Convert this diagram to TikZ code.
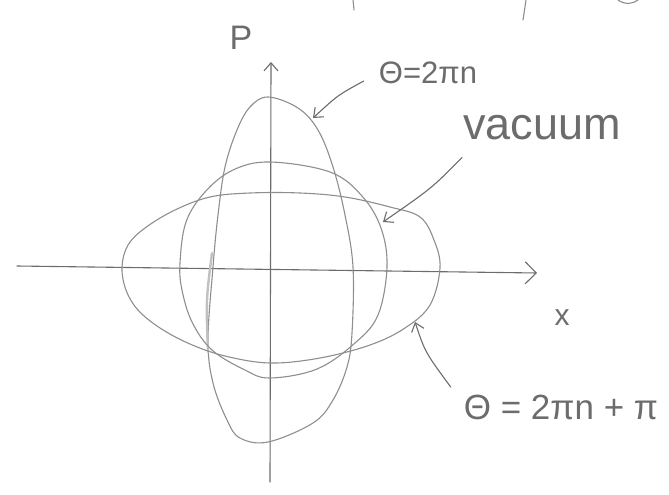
\documentclass[tikz,border=0pt]{standalone}
\usepackage{fontspec}
\setmainfont{Liberation Sans}
\usepackage{tikz}
\usetikzlibrary{arrows.meta,calc}
\definecolor{Pencil}{HTML}{8E8E8E}
\definecolor{Graphite}{HTML}{6C6C6C}

\begin{document}
\begin{tikzpicture}[
  x=1pt,y=-1pt,
  pencil/.style={draw=Pencil,line width=1.1pt,line cap=round,line join=round},
  axis/.style={pencil,draw=Graphite,-{Straight Barb[length=11pt,width=22pt]}},
  pointer/.style={pencil,draw=Graphite,-{Straight Barb[length=8pt,width=13pt]}},
  lbl/.style={text=Graphite,inner sep=1pt,font=\fontsize{30}{34}\selectfont}
]
\useasboundingbox (0,0) rectangle (669,495);
% bits of the line above, cut off by the page edge
\draw[pencil] (353,0) -- (354,10);
\draw[pencil] (526,0) -- (523,20);
\draw[pencil] (618,0) .. controls (625,5) and (633,4) .. (638,0);
% axes
\coordinate (xFrom) at (17,266);
\coordinate (xTo) at (537,273);
\coordinate (pFrom) at (270,482);
\coordinate (pTo) at (271,62);
\draw[axis] (xFrom) -- (xTo);
\draw[axis,-{Straight Barb[length=8pt,width=14pt]}] (pFrom) -- (pTo);
\node[lbl,font=\fontsize{34}{38}\selectfont] (pLabel) at (241,38) {P};
\node[lbl] (xLabel) at (562,318) {x};
% theta = 2 pi n : squeezed state, tall
\draw[pencil] plot[smooth cycle,tension=0.6] coordinates {
  (268,97) (298,108) (318,130) (333,167) (345,215) (353,267) (352,333)
  (347,367) (333,400) (313,423) (268,442) (240,438) (227,420) (213,383)
  (208,340) (213,267) (218,215) (225,167) (237,130) (250,107)};
\draw[pencil,line width=2.4pt,draw=Pencil!55] (212,253) .. controls (206,300) .. (208,352);
% vacuum
\draw[pencil] plot[smooth cycle,tension=0.6] coordinates {
  (270,162) (330,172) (362,196) (381,228) (387,267) (378,315) (355,343)
  (317,369) (270,378) (245,370) (212,350) (192,322) (182,290) (180,263)
  (186,222) (205,192) (233,170)};
% theta = 2 pi n + pi : squeezed state, wide
\draw[pencil] plot[smooth cycle,tension=0.6] coordinates {
  (122,267) (128,245) (145,228) (175,210) (210,197) (250,193) (300,193)
  (345,197) (390,207) (420,217) (434,240) (440,268) (430,305) (405,328)
  (370,345) (320,358) (270,363) (225,356) (190,344) (160,328) (138,310)
  (126,290)};
% labels and pointers
\node[lbl,font=\fontsize{31}{35}\selectfont] (thetaA) at (428,73) {Θ=2πn};
\node[lbl,font=\fontsize{45}{50}\selectfont] (vacLabel) at (542,128) {vacuum};
\node[lbl,font=\fontsize{35}{40}\selectfont] (thetaB) at (561,407) {Θ = 2πn + π};
\coordinate (tipA) at (313,118);
\coordinate (tipV) at (383,222);
\coordinate (tipB) at (415,322);
\draw[pointer] ($(thetaA.west)+(-14,8)$) .. controls (338,95) .. (tipA);
\draw[pointer] ($(vacLabel.south west)+(0,16)$) .. controls (432,188) .. (tipV);
\draw[pointer] ($(thetaB.west)+(-12,-20)$) .. controls (425,352) .. (tipB);
\end{tikzpicture}
\end{document}
